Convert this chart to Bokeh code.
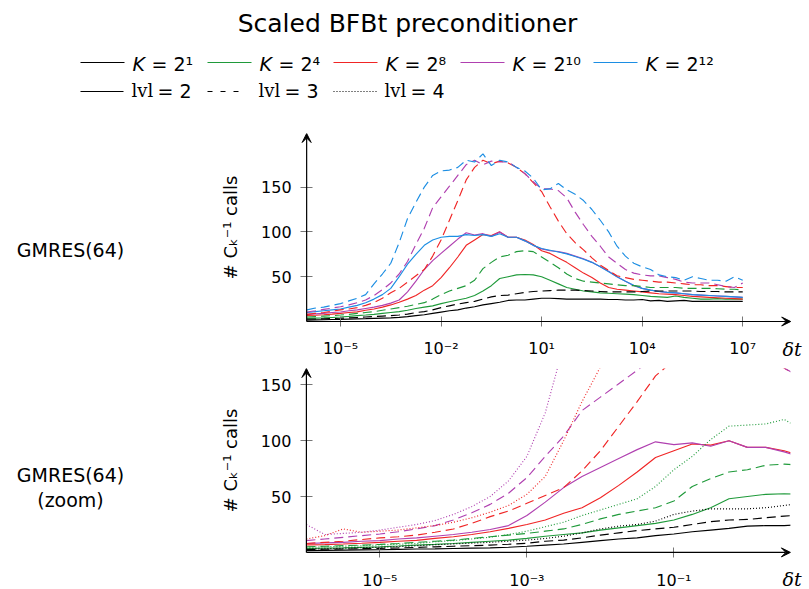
from bokeh.plotting import figure
from bokeh.layouts import column
from bokeh.models import (Range1d, FixedTicker, CustomJSTickFormatter, Arrow, VeeHead,
                          BoxAnnotation)
from bokeh.core.properties import value
from bokeh.embed import file_html
from bokeh.resources import INLINE

# ---------------- data ----------------
log_dt = [-6.0, -5.75, -5.5, -5.25, -5.0, -4.75, -4.5, -4.25, -4.0, -3.75, -3.5, -3.25,
          -3.0, -2.75, -2.5, -2.25, -2.0, -1.75, -1.5, -1.25, -1.0, -0.75, -0.5, -0.25,
          0.0, 0.25, 0.5, 0.75, 1.0, 1.25, 1.5, 1.75, 2.0, 2.25, 2.5, 2.75, 3.0, 3.25,
          3.5, 3.75, 4.0, 4.25, 4.5, 4.75, 5.0, 5.25, 5.5, 5.75, 6.0, 6.25, 6.5, 6.75, 7.0]

# lvl = 2 (solid)
lvl2_K1 = [1.6, 1.8, 2.0, 2.2, 2.4, 2.7, 3.0, 3.2, 3.5, 3.8, 4.1, 4.6, 5.5, 6.5, 7.5, 9.0, 10.5,
           12.0, 13.0, 15.0, 16.5, 18.5, 20.0, 21.5, 23.5, 24.0, 24.0, 25.0, 26.0, 26.0, 25.5,
           25.0, 25.0, 25.0, 25.0, 25.0, 24.5, 24.5, 24.0, 24.0, 24.5, 23.0, 23.5, 22.5, 23.0,
           23.5, 22.5, 22.5, 22.5, 22.5, 22.5, 22.5, 22.5]
lvl2_K4 = [3.5, 3.8, 4.0, 4.5, 5.0, 5.7, 6.5, 7.2, 8.0, 9.0, 10.0, 11.0, 12.5, 14.5, 16.0, 17.5,
           20.0, 22.0, 24.0, 26.0, 29.0, 34.0, 40.0, 48.0, 50.0, 52.0, 52.5, 52.0, 50.0, 46.0,
           42.0, 38.0, 36.0, 34.0, 33.0, 32.0, 31.5, 31.0, 30.5, 30.0, 29.0, 28.0, 27.5, 27.0,
           28.5, 27.0, 26.0, 25.0, 25.0, 25.5, 25.0, 25.0, 25.0]
lvl2_K8 = [6.7, 7.0, 7.5, 8.2, 9.0, 10.0, 10.8, 12.5, 14.0, 16.0, 18.5, 21.5, 25.0, 29.0, 35.0,
           40.0, 49.0, 60.0, 72.0, 85.0, 91.0, 97.0, 96.0, 100.0, 94.0, 94.0, 91.0, 86.0, 79.0,
           76.0, 71.0, 66.0, 60.0, 54.0, 49.0, 43.0, 38.0, 36.0, 35.0, 34.0, 33.0, 32.0, 31.0,
           30.5, 30.0, 29.0, 28.0, 27.5, 27.0, 26.5, 26.0, 25.5, 25.0]
lvl2_K10 = [8.0, 8.5, 9.0, 10.0, 10.6, 12.0, 13.0, 14.5, 16.0, 18.0, 20.5, 24.0, 33.0, 45.0, 58.0,
            68.0, 76.0, 84.0, 92.0, 99.0, 96.5, 98.0, 95.0, 100.0, 94.0, 94.0, 90.0, 85.0, 81.0,
            79.0, 78.0, 76.0, 73.0, 70.0, 66.0, 61.0, 56.0, 50.0, 45.0, 40.0, 37.0, 35.0, 33.5,
            32.5, 32.0, 31.0, 30.0, 29.5, 29.0, 28.5, 28.0, 27.5, 27.0]
lvl2_K12 = [10.0, 11.0, 12.0, 13.0, 14.0, 16.0, 18.0, 21.0, 25.0, 30.0, 37.0, 50.0, 64.0, 75.0,
            85.0, 91.0, 94.0, 95.0, 95.0, 97.0, 96.0, 97.0, 95.0, 98.0, 94.0, 94.0, 90.0, 85.0,
            81.5, 79.5, 77.5, 75.5, 72.5, 69.5, 66.0, 61.0, 55.5, 50.0, 45.0, 40.5, 37.0, 35.0,
            33.5, 32.5, 32.0, 31.0, 30.0, 29.5, 29.0, 28.5, 28.0, 27.5, 27.0]

# lvl = 3 (dashed)
lvl3_K1 = [2.5, 2.8, 3.0, 3.3, 3.6, 4.0, 4.5, 5.0, 5.5, 6.0, 6.5, 7.3, 8.2, 10.0, 11.0, 13.0, 15.5,
           17.5, 19.5, 21.0, 22.5, 25.0, 27.5, 29.0, 29.5, 31.0, 32.5, 33.5, 34.0, 34.5, 35.0,
           35.0, 35.0, 34.5, 34.0, 33.5, 33.0, 33.0, 33.0, 33.0, 33.5, 34.0, 34.0, 34.0, 34.0,
           34.0, 34.0, 33.5, 33.5, 33.5, 33.0, 33.0, 33.0]
lvl3_K4 = [5.0, 5.5, 6.0, 6.5, 7.2, 8.0, 9.0, 10.0, 11.0, 12.5, 14.0, 15.5, 17.0, 19.0, 21.0, 25.0,
           30.0, 34.0, 37.0, 40.0, 46.0, 59.0, 66.0, 72.0, 74.0, 78.0, 79.0, 78.0, 72.0, 66.0,
           60.0, 53.0, 48.0, 45.0, 44.0, 43.0, 42.0, 41.0, 40.0, 40.0, 39.0, 38.0, 38.0, 38.0,
           38.0, 37.0, 37.0, 37.0, 37.0, 36.5, 36.0, 36.0, 35.0]
lvl3_K8 = [8.0, 9.0, 10.0, 11.5, 13.0, 14.0, 15.5, 18.0, 21.0, 26.0, 32.0, 37.0, 44.0, 51.0, 58.0,
           73.0, 91.0, 113.0, 135.0, 158.0, 172.0, 180.0, 176.0, 179.0, 177.0, 172.0, 165.0,
           155.0, 145.0, 128.0, 112.0, 98.0, 88.0, 80.0, 71.0, 63.0, 57.0, 51.0, 49.0, 47.0,
           46.0, 45.0, 44.0, 44.0, 43.0, 42.0, 41.0, 41.0, 40.0, 40.0, 39.0, 38.0, 38.0]
lvl3_K10 = [10.6, 12.0, 13.5, 15.0, 16.5, 18.5, 21.0, 24.0, 29.0, 35.5, 43.0, 53.0, 67.0, 86.0,
            104.0, 127.0, 139.0, 151.0, 163.0, 175.0, 180.0, 175.0, 179.0, 178.0, 178.0, 172.0,
            165.0, 156.0, 148.0, 148.0, 146.0, 138.0, 122.0, 108.0, 95.0, 84.0, 72.0, 65.0,
            58.0, 54.0, 52.0, 51.0, 51.0, 49.0, 47.0, 44.0, 43.0, 43.0, 43.0, 41.0, 39.0, 38.0, 43.0]
lvl3_K12 = [13.0, 15.0, 16.0, 18.0, 20.0, 23.0, 26.0, 30.0, 42.0, 53.0, 65.0, 88.0, 115.0, 133.0,
            150.0, 163.0, 168.0, 169.0, 172.0, 180.0, 178.0, 187.0, 174.0, 180.0, 178.0, 172.0,
            168.0, 160.0, 147.0, 148.0, 154.0, 147.0, 142.0, 135.0, 125.0, 113.0, 100.0, 84.0,
            73.0, 65.0, 61.0, 58.0, 52.0, 50.0, 49.0, 46.0, 50.0, 48.0, 46.0, 46.0, 45.0, 50.0, 46.0]

# lvl = 4 (dotted), only small time steps (zoom panel)
lvl4_K1 = [3.0, 3.3, 3.7, 4.2, 4.6, 5.2, 6.0, 6.8, 7.6, 8.3, 9.0, 10.0, 11.0, 12.5, 14.5, 17.5,
           21.0, 23.5, 25.0, 28.0, 34.0, 37.0, 39.0, 39.0, 39.0, 40.0, 42.0, 44.0]
lvl4_K4 = [4.6, 5.0, 5.5, 6.0, 6.7, 7.3, 8.0, 9.5, 10.6, 12.0, 13.6, 16.0, 19.0, 23.0, 27.0, 33.0,
           38.0, 43.0, 48.0, 59.0, 74.0, 86.0, 101.0, 113.0, 114.0, 115.0, 119.0, 110.0]
lvl4_K8 = [12.0, 15.0, 21.0, 18.0, 19.0, 20.0, 22.0, 24.0, 27.0, 31.0, 36.0, 42.0, 52.0, 68.0,
           100.0, 135.0, 166.0, 200.0]
lvl4_K10 = [25.0, 16.0, 17.0, 18.0, 20.0, 22.5, 25.0, 28.5, 34.0, 41.0, 50.0, 64.0, 86.0, 125.0, 185.0]

K_sup = ["\u00b9", "\u2074", "\u2078", "\u00b9\u2070", "\u00b9\u00b2"]
K_colors = ["#000000", "#1f9a3a", "#f02525", "#b040b0", "#1c8ee3"]
lvl_names = ["2", "3", "4"]
lvl_dash = ["solid", "9 5", "1 2"]

top_lvl2 = [lvl2_K1, lvl2_K4, lvl2_K8, lvl2_K10, lvl2_K12]
top_lvl3 = [lvl3_K1, lvl3_K4, lvl3_K8, lvl3_K10, lvl3_K12]
zoom_lvl4 = [lvl4_K1, lvl4_K4, lvl4_K8, lvl4_K10]

for s in top_lvl2 + top_lvl3:
    assert len(s) == len(log_dt), len(s)

dt = [10.0 ** e for e in log_dt]

SANS = "DejaVu Sans"
SERIF = "DejaVu Serif"
LW = 1.15
W = 809

# ---------------- header (title + legend) ----------------
hdr = figure(width=W, height=120, x_range=Range1d(0, W), y_range=Range1d(120, 0),
             min_border=0, x_axis_location=None, y_axis_location=None,
             output_backend="svg", toolbar_location=None, outline_line_color=None)
hdr.grid.visible = False
hdr.text(x=[407], y=[23], text=["Scaled BFBt preconditioner"], text_font=value(SANS),
         text_font_size="25px", text_align="center", text_baseline="middle", text_color="black")

row1_x0 = [80, 207, 333, 460, 593]
for x0, sup, col in zip(row1_x0, K_sup, K_colors):
    hdr.line([x0, x0 + 44], [62, 62], line_color=col, line_width=LW)
    hdr.text(x=[x0 + 52], y=[63], text=["K"], text_font=value(SANS), text_font_style="italic",
             text_font_size="19px", text_baseline="middle", text_color="black")
    hdr.text(x=[x0 + 71], y=[63], text=["= 2" + sup], text_font=value(SANS),
             text_font_size="19px", text_baseline="middle", text_color="black")

row2_x0 = [80, 207, 333]
row2_len = [43, 38, 45]
row2_dash = ["solid", "5 8", "1 2"]
for x0, ln, dsh, nm in zip(row2_x0, row2_len, row2_dash, lvl_names):
    hdr.line([x0, x0 + ln], [91, 91], line_color="black", line_width=LW, line_dash=dsh)
    hdr.text(x=[x0 + 51], y=[90], text=["lvl"], text_font=value(SERIF),
             text_font_size="18px", text_baseline="middle", text_color="black")
    hdr.text(x=[x0 + 77], y=[90], text=["= " + nm], text_font=value(SANS),
             text_font_size="19px", text_baseline="middle", text_color="black")

# ---------------- panels ----------------
sup_js = """
const sup = {"-": "\u207b", "0": "\u2070", "1": "\u00b9", "2": "\u00b2", "3": "\u00b3",
             "4": "\u2074", "5": "\u2075", "6": "\u2076", "7": "\u2077", "8": "\u2078", "9": "\u2079"};
const e = Math.round(Math.log10(tick));
let s = "10";
for (const c of String(e)) { s += sup[c]; }
return s;
"""


def make_panel(fig_top, height, border_top, y0_abs, ppu, ref_log, ref_px, ppd,
               xlo, xhi, xticks, label_standoff, row_lines, row_centers):
    # page-pixel geometry of this panel -> data ranges of a frame that fills the figure
    frame_top = fig_top + border_top
    frame_bot = fig_top + height
    ymax = (y0_abs - frame_top) / ppu
    ymin = -(frame_bot - y0_abs) / ppu
    lmin = ref_log - ref_px / ppd
    lmax = ref_log + (W - ref_px) / ppd

    def px2x(px):
        return 10 ** (lmin + px / ppd)

    def py2y(py):
        return (y0_abs - py) / ppu

    p = figure(width=W, height=height, x_axis_type="log",
               x_range=Range1d(10 ** lmin, 10 ** lmax), y_range=Range1d(ymin, ymax),
               min_border_left=0, min_border_right=0, min_border_top=border_top,
               min_border_bottom=0, output_backend="svg", toolbar_location=None,
               outline_line_color=None, background_fill_color="white")
    p.grid.visible = False
    xa = p.xaxis[0]
    ya = p.yaxis[0]
    xa.fixed_location = 0
    xa.bounds = (10 ** xlo, 10 ** xhi)
    ya.fixed_location = 10 ** xlo
    ya.bounds = (0, ymax)
    xa.ticker = FixedTicker(ticks=xticks)
    xa.formatter = CustomJSTickFormatter(code=sup_js)
    ya.ticker = FixedTicker(ticks=[50, 100, 150])
    for ax in (xa, ya):
        ax.axis_line_color = None
        ax.major_tick_line_color = "#777777"
        ax.major_tick_line_width = 1
        ax.major_tick_in = 5
        ax.major_tick_out = 5
        ax.minor_tick_line_color = None
        ax.major_label_text_font = SANS
        ax.major_label_text_font_size = "16px"
        ax.major_label_text_color = "black"
    xa.major_label_standoff = label_standoff
    ya.major_label_standoff = 9
    ya.major_tick_out = 6
    ya.major_tick_in = 6
    ya.axis_label = "# C\u2096\u207b\u00b9 calls"
    ya.axis_label_text_font = SANS
    ya.axis_label_text_font_style = "normal"
    ya.axis_label_text_font_size = "18px"
    ya.axis_label_standoff = 17
    ya.axis_label_text_color = "black"

    # row label at the left of the panel
    p.text(x=[px2x(70)] * len(row_lines), y=[py2y(c) for c in row_centers], text=row_lines,
           text_font=value(SANS), text_font_size="19px", text_align="center",
           text_baseline="middle", text_color="black")
    return p, px2x, py2y, ymax


def finish_panel(p, px2x, py2y, ymax, xlo, xhi, dt_center, mask):
    if mask:
        p.add_layout(BoxAnnotation(left=10 ** xhi, right=px2x(W + 5), bottom=0.8, top=ymax * 2,
                                   fill_color="white", fill_alpha=1.0, line_color=None))
    head = dict(size=9, line_color="black", fill_color="black", line_width=1)
    p.add_layout(Arrow(end=VeeHead(**head), x_start=10 ** xlo, y_start=0, x_end=10 ** xhi,
                       y_end=0, line_width=1.2, line_color="black"))
    p.add_layout(Arrow(end=VeeHead(**head), x_start=10 ** xlo, y_start=0, x_end=10 ** xlo,
                       y_end=ymax, line_width=1.2, line_color="black"))
    # x-axis name at the arrow tip
    p.text(x=[px2x(782)], y=[py2y(dt_center)], text=["\u03b4t"], text_font=value(SERIF),
           text_font_style="italic", text_font_size="19px", text_baseline="middle",
           text_align="left", text_color="black")


# top panel: full delta-t range, lvl 2 and 3
top, tx, ty, tymax = make_panel(120, 238, 13, 321.0, 0.896, -5, 340.0, 33.52, -6.01, 8.43,
                                [1e-5, 1e-2, 1e1, 1e4, 1e7], 12, ["GMRES(64)"], [249])
for vals, col in zip(top_lvl2, K_colors):
    top.line(dt, vals, line_color=col, line_width=LW)
for vals, col in zip(top_lvl3, K_colors):
    top.line(dt, vals, line_color=col, line_width=LW, line_dash=lvl_dash[1])
finish_panel(top, tx, ty, tymax, -6.01, 8.43, 348, False)

# bottom panel: zoom on small delta-t, lvl 2, 3 and 4
bot, bx, by, bymax = make_panel(358, 231, 10, 551.9, 1.117, -5, 379.4, 73.5, -6.0, 0.585,
                                [1e-5, 1e-3, 1e-1], 14, ["GMRES(64)", "(zoom)"], [474, 499])
for vals, col in zip(top_lvl2[:4], K_colors):
    bot.line(dt, vals, line_color=col, line_width=LW)
for vals, col in zip(top_lvl3[:4], K_colors):
    bot.line(dt, vals, line_color=col, line_width=LW, line_dash=lvl_dash[1])
for vals, col in zip(zoom_lvl4, K_colors):
    bot.line(dt[:len(vals)], vals, line_color=col, line_width=LW, line_dash=lvl_dash[2])
finish_panel(bot, bx, by, bymax, -6.0, 0.585, 578, True)

layout = column(hdr, top, bot)

with open("out.html", "w") as fh:
    fh.write(file_html(layout, INLINE))
